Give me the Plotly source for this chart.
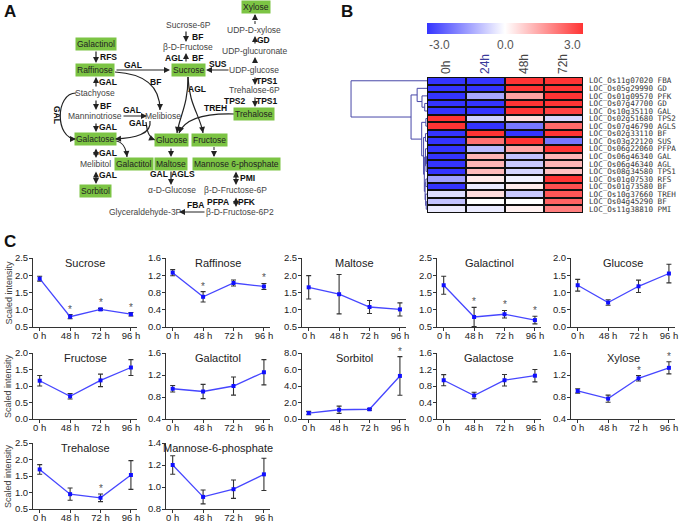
import plotly.graph_objects as go

W, H = 685, 523
FONT = "Arial, Liberation Sans, sans-serif"

# ---------------- Panel C data ----------------
time_labels = ["0 h", "48 h", "72 h", "96 h"]
metabolites = ["Sucrose", "Raffinose", "Maltose", "Galactinol", "Glucose",
               "Fructose", "Galactitol", "Sorbitol", "Galactose", "Xylose",
               "Trehalose", "Mannose-6-phosphate"]
means = {
    "Sucrose": [1.90, 0.80, 1.01, 0.87],
    "Raffinose": [1.26, 0.70, 1.02, 0.94],
    "Maltose": [1.65, 1.45, 1.08, 1.01],
    "Galactinol": [1.71, 0.79, 0.87, 0.70],
    "Glucose": [1.21, 0.71, 1.18, 1.55],
    "Fructose": [1.16, 0.69, 1.17, 1.56],
    "Galactitol": [0.95, 0.90, 1.00, 1.25],
    "Sorbitol": [0.72, 1.12, 1.18, 5.22],
    "Galactose": [0.94, 0.57, 0.94, 1.05],
    "Xylose": [0.91, 0.77, 1.14, 1.33],
    "Trehalose": [1.70, 0.95, 0.84, 1.53],
    "Mannose-6-phosphate": [1.20, 0.91, 0.98, 1.115],
}
errors = {
    "Sucrose": [0.07, 0.06, 0.03, 0.05],
    "Raffinose": [0.07, 0.12, 0.07, 0.07],
    "Maltose": [0.34, 0.57, 0.19, 0.19],
    "Galactinol": [0.26, 0.28, 0.11, 0.11],
    "Glucose": [0.17, 0.08, 0.18, 0.27],
    "Fructose": [0.16, 0.085, 0.19, 0.24],
    "Galactitol": [0.06, 0.13, 0.165, 0.23],
    "Sorbitol": [0.2, 0.44, 0.1, 2.34],
    "Galactose": [0.135, 0.08, 0.14, 0.15],
    "Xylose": [0.04, 0.065, 0.05, 0.11],
    "Trehalose": [0.145, 0.185, 0.115, 0.435],
    "Mannose-6-phosphate": [0.084, 0.063, 0.083, 0.147],
}
significant = {
    "Sucrose": [1, 2, 3], "Raffinose": [1, 3], "Galactinol": [1, 2, 3],
    "Sorbitol": [3], "Xylose": [2, 3], "Trehalose": [2],
}
y_ranges = {
    "Sucrose": (0.5, 2.5, 0.5), "Raffinose": (0.0, 1.6, 0.4), "Maltose": (0.5, 2.5, 0.5),
    "Galactinol": (0.5, 2.5, 0.5), "Glucose": (0.0, 2.0, 0.5), "Fructose": (0.0, 2.0, 0.5),
    "Galactitol": (0.4, 1.6, 0.4), "Sorbitol": (0.0, 8.0, 2.0), "Galactose": (0.0, 1.6, 0.4),
    "Xylose": (0.4, 1.6, 0.4), "Trehalose": (0.5, 2.5, 0.5), "Mannose-6-phosphate": (0.8, 1.4, 0.2),
}

# ---------------- Panel B data ----------------
hm_columns = ["0h", "24h", "48h", "72h"]
genes = ["LOC_Os11g07020", "LOC_Os05g29990", "LOC_Os01g09570", "LOC_Os07g47700",
         "LOC_Os10g35110", "LOC_Os02g51680", "LOC_Os07g46790", "LOC_Os02g33110",
         "LOC_Os03g22120", "LOC_Os06g22060", "LOC_Os06g46340", "LOC_Os06g46340",
         "LOC_Os08g34580", "LOC_Os01g07530", "LOC_Os01g73580", "LOC_Os10g37660",
         "LOC_Os04g45290", "LOC_Os11g38810"]
enzymes = ["FBA", "GD", "PFK", "GD", "GAL", "TPS2", "AGLS", "BF", "SUS", "PFPA",
           "GAL", "AGL", "TPS1", "RFS", "BF", "TREH", "BF", "PMI"]
expression = [
    [-3.0, -3.0, 3.0, 3.0],
    [-3.0, -3.0, 3.0, 3.0],
    [-3.0, -1.3, 1.4, 3.0],
    [-3.0, -3.0, 3.0, 3.0],
    [-3.0, -3.0, 3.0, 2.8],
    [3.0, -0.7, 0.5, -0.6],
    [3.0, -3.0, -2.0, 2.2],
    [-3.0, 3.0, -3.0, 3.0],
    [-3.0, 2.1, 3.0, -2.0],
    [-3.0, -1.0, 1.3, 3.0],
    [-3.0, 1.1, -0.9, 1.1],
    [-3.0, 1.1, -0.8, 1.1],
    [-3.0, 1.0, -0.6, 0.9],
    [-1.4, 0.3, -0.2, 3.0],
    [-3.0, -0.3, 0.3, 2.6],
    [-0.5, 0.5, -0.8, 2.5],
    [-0.9, 0.0, 0.0, 2.3],
    [-0.3, -0.3, 0.2, 1.9],
]
# dendrogram: [height, left, right]; leaves are row indices
dendro_tree = [1.0, 0,
               [0.21,
                [0.13, 1, [0.066, 2, [0.03, 3, 4]]],
                [0.07, [0.015, 5, 6],
                 [0.045, [0.02, 7, 8],
                  [0.035, [0.02, 9, [0.012, [0.005, 10, 11], 12]],
                   [0.025, [0.015, 13, 14], [0.018, 15, [0.01, 16, 17]]]]]]]]

# ---------------- Panel A (pathway) ----------------
green_nodes = [("Xylose", 256, 7), ("Galactinol", 96, 44), ("Raffinose", 95, 70),
               ("Sucrose", 188, 70), ("Trehalose", 254, 114), ("Galactose", 95, 139),
               ("Glucose", 171, 140), ("Fructose", 209, 140), ("Galactitol", 134, 164),
               ("Maltose", 171, 164), ("Mannose 6-phosphate", 236, 164), ("Sorbitol", 95, 191)]
plain_nodes = [("UDP-D-xylose", 254, 30), ("UDP-glucuronate", 254, 51), ("Sucrose-6P", 188, 25),
               ("β-D-Fructose", 188, 47), ("UDP-glucose", 254, 70), ("Trehalose-6P", 254, 90),
               ("Stachyose", 95, 93), ("Manninotriose", 95, 116), ("Melibiose", 163, 116),
               ("Melibitol", 95, 164), ("α-D-Glucose", 172, 190), ("β-D-Fructose-6P", 235, 190),
               ("β-D-Fructose-6P2", 240, 212), ("Glyceraldehyde-3P", 145, 212)]
enzyme_labels = [("GD", 263, 40), ("BF", 197, 37), ("AGL", 174, 58), ("BF", 197, 58),
                 ("SUS", 218, 64), ("TPS1", 267, 81), ("TPS2", 235, 101), ("TPS1", 267, 101),
                 ("TREH", 215, 108), ("RFS", 108, 57), ("GAL", 133, 65), ("BF", 155, 82),
                 ("AGL", 197, 89), ("GAL", 108, 82), ("BF", 105, 106), ("GAL", 132, 110),
                 ("GAL", 108, 127), ("GAL", 138, 123), ("GAL", 108, 153), ("GAL", 159, 174),
                 ("AGLS", 183, 174), ("GAL", 108, 175), ("PMI", 247, 178), ("PFPA", 218, 202),
                 ("PFK", 247, 202), ("FBA", 195, 205)]
straight_arrows = [  # (x1, y1, x2, y2, style)  style: 'one', 'both', 'dash'
    (255, 45, 255, 36, "one"), (255, 24, 255, 14, "dash"), (186, 30, 186, 42, "one"),
    (186, 63, 186, 53, "one"), (230, 70, 206, 70, "one"), (255, 64, 255, 57, "one"),
    (255, 76, 255, 85, "one"), (255, 96, 255, 107, "one"), (96, 50, 96, 63, "one"),
    (115, 70, 170, 70, "one"), (96, 88, 96, 77, "one"), (96, 99, 96, 110, "one"),
    (122, 116, 147, 116, "one"), (96, 122, 96, 132, "one"), (96, 147, 96, 158, "both"),
    (96, 170, 96, 184, "both"), (171, 147, 171, 157, "one"), (214, 147, 214, 157, "dash"),
    (171, 170, 171, 185, "one"), (236, 170, 236, 185, "both"), (236, 196, 236, 207, "both"),
    (206, 212, 179, 212, "one"),
]
curved_arrows = [  # start, control1, control2, end
    ((115, 72), (150, 74), (160, 90), (160, 110)),
    ((188, 77), (188, 105), (180, 115), (177, 133)),
    ((188, 77), (189, 105), (200, 115), (203, 133)),
    ((235, 114), (205, 113), (185, 118), (179, 133)),
    ((76, 93), (55, 93), (55, 139), (76, 139)),
    ((150, 121), (152, 134), (135, 138), (115, 139)),
    ((146, 122), (147, 130), (148, 137), (155, 140)),
    ((115, 141), (122, 141), (126, 148), (127, 157)),
]

fig = go.Figure()
annotations = []
shapes = []

# ---------- Panel C subplots ----------
col_px = [(33, 137), (166, 270), (302, 406), (437, 541), (571, 675)]
row_px = [(258, 327), (353, 419), (443, 509)]
layout_axes = {}
for i, name in enumerate(metabolites):
    n = i + 1
    r, c = divmod(i, 5)
    x0, x1 = col_px[c]
    y0, y1 = row_px[r]
    xa = "x" if n == 1 else f"x{n}"
    ya = "y" if n == 1 else f"y{n}"
    fig.add_trace(go.Scatter(
        x=[0, 1, 2, 3], y=means[name], xaxis=xa, yaxis=ya, mode="lines+markers",
        line=dict(color="#4646ff", width=1.3),
        marker=dict(symbol="square", size=4, color="#1010ff"),
        error_y=dict(type="data", array=errors[name], color="#333333", thickness=1.1, width=2.5),
        showlegend=False, hoverinfo="skip"))
    lo, hi, dt = y_ranges[name]
    xkey = "xaxis" if n == 1 else f"xaxis{n}"
    ykey = "yaxis" if n == 1 else f"yaxis{n}"
    layout_axes[xkey] = dict(domain=[x0 / W, x1 / W], anchor=ya, range=[-0.22, 3.2],
                             tickvals=[0, 1, 2, 3], ticktext=time_labels, showline=True,
                             linecolor="#333", linewidth=1, ticks="outside", ticklen=3,
                             tickcolor="#333", showgrid=False, zeroline=False,
                             automargin=False, ticklabelstandoff=-3,
                             tickfont=dict(family=FONT, size=9.5, color="#222"))
    layout_axes[ykey] = dict(domain=[1 - y1 / H, 1 - y0 / H], anchor=xa, range=[lo, hi],
                             dtick=dt, tick0=lo, tickformat=".1f", showline=True,
                             linecolor="#333", linewidth=1, ticks="outside", ticklen=3,
                             tickcolor="#333", showgrid=False, zeroline=False,
                             automargin=False, ticklabelstandoff=-1,
                             tickfont=dict(family=FONT, size=9.5, color="#222"))
    annotations.append(dict(text=name, xref=f"{xa} domain", yref=f"{ya} domain", x=0.5,
                            y=0.93, showarrow=False,
                            font=dict(family=FONT, size=11, color="#222")))
    for k in significant.get(name, []):
        annotations.append(dict(text="*", xref=xa, yref=ya, x=k,
                                y=means[name][k] + errors[name][k], yanchor="bottom",
                                yshift=-2, showarrow=False,
                                font=dict(family=FONT, size=10, color="#555")))
    if c == 0:
        annotations.append(dict(text="Scaled intensity", xref="paper", yref="paper",
                                x=8 / W, y=1 - (y0 + y1) / 2 / H, textangle=-90,
                                showarrow=False,
                                font=dict(family=FONT, size=9, color="#444")))

# ---------- Panel B heatmap ----------
hx0, hx1, hy0, hy1 = 427, 583, 77, 213
fig.add_trace(go.Heatmap(
    z=expression, x=[0, 1, 2, 3], y=list(range(len(genes))), xaxis="x13", yaxis="y13",
    zmin=-3, zmax=3, xgap=2, ygap=2,
    colorscale=[[0, "#3434ff"], [0.5, "#ffffff"], [1, "#ff3434"]],
    colorbar=dict(orientation="h", thickness=11, len=(hx1 - hx0) / W, lenmode="fraction",
                  x=hx0 / W, xanchor="left", y=1 - 23 / H, yanchor="top",
                  showticklabels=False, ticks="", outlinewidth=0, xpad=0, ypad=0),
    hoverinfo="skip"))
row_labels = [f"{g} {e}" for g, e in zip(genes, enzymes)]
col_ticktext = [c if c != "24h" else '<span style="color:#3a3a9a">24h</span>' for c in hm_columns]
layout_axes["xaxis13"] = dict(domain=[hx0 / W, hx1 / W], anchor="y13", range=[-0.5, 3.5],
                              side="top", tickvals=[0, 1, 2, 3], ticktext=col_ticktext,
                              tickangle=-90, ticks="", showgrid=False, zeroline=False,
                              showline=False, ticklabelstandoff=2, automargin=False,
                              tickfont=dict(family=FONT, size=12, color="#444"))
layout_axes["yaxis13"] = dict(domain=[1 - hy1 / H, 1 - hy0 / H], anchor="x13",
                              range=[len(genes) - 0.5, -0.5], side="right",
                              tickvals=list(range(len(genes))), ticktext=row_labels,
                              ticks="", showgrid=False, zeroline=False, showline=False,
                              ticklabelstandoff=5, automargin=False,
                              tickfont=dict(family="DejaVu Sans Mono, monospace", size=7.6,
                                            color="#333"))
shapes.append(dict(type="rect", xref="x13", yref="y13", x0=-0.52, x1=3.52,
                   y0=-0.53, y1=len(genes) - 0.47, fillcolor="#111", line=dict(width=0),
                   layer="below"))

# dendrogram
dx, dy = [], []


def walk(node):
    if isinstance(node, int):
        return 0.0, float(node)
    h, left, right = node
    lh, ly = walk(left)
    rh, ry = walk(right)
    dx.extend([lh, h, h, rh, None])
    dy.extend([ly, ly, ry, ry, None])
    return h, (ly + ry) / 2


walk(dendro_tree)
fig.add_trace(go.Scatter(x=dx, y=dy, xaxis="x14", yaxis="y14", mode="lines",
                         line=dict(color="#4848a8", width=1), showlegend=False,
                         hoverinfo="skip"))
layout_axes["xaxis14"] = dict(domain=[348 / W, hx0 / W], anchor="y14", range=[1.04, 0],
                              visible=False, automargin=False)
layout_axes["yaxis14"] = dict(domain=[1 - hy1 / H, 1 - hy0 / H], anchor="x14",
                              range=[len(genes) - 0.5, -0.5], visible=False,
                              automargin=False)

# colorbar labels
for txt, px_, anc in [("-3.0", hx0, "left"), ("0.0", 505, "center"), ("3.0", hx1, "right")]:
    annotations.append(dict(text=txt, xref="paper", yref="paper", x=px_ / W, y=1 - 45 / H,
                            xanchor=anc, yanchor="middle", showarrow=False,
                            font=dict(family=FONT, size=12, color="#555")))


# ---------- Panel A ----------
def px(x, y):
    return x / W, 1 - y / H


for name, x, y in green_nodes:
    X, Y = px(x, y)
    annotations.append(dict(text=name, xref="paper", yref="paper", x=X, y=Y,
                            showarrow=False, bgcolor="#7cc444", borderpad=1,
                            font=dict(family=FONT, size=8.5, color="#222")))
for name, x, y in plain_nodes:
    X, Y = px(x, y)
    annotations.append(dict(text=name, xref="paper", yref="paper", x=X, y=Y,
                            showarrow=False, font=dict(family=FONT, size=8.5, color="#444")))
for name, x, y in enzyme_labels:
    X, Y = px(x, y)
    annotations.append(dict(text=f"<b>{name}</b>", xref="paper", yref="paper", x=X, y=Y,
                            showarrow=False, font=dict(family=FONT, size=8.5, color="#111")))
X, Y = px(57, 115)
annotations.append(dict(text="<b>GAL</b>", xref="paper", yref="paper", x=X, y=Y,
                        textangle=90, showarrow=False,
                        font=dict(family=FONT, size=8.5, color="#111")))


def head(x2, y2, ax, ay, side="end"):
    X, Y = px(x2, y2)
    annotations.append(dict(text="", xref="paper", yref="paper", x=X, y=Y,
                            ax=ax, ay=ay, axref="pixel", ayref="pixel", showarrow=True,
                            arrowhead=2, arrowsize=1, arrowwidth=1.2, arrowcolor="#222",
                            standoff=0, startstandoff=0, arrowside=side))


for x1, y1, x2, y2, style in straight_arrows:
    if style == "dash":
        X1, Y1 = px(x1, y1)
        X2, Y2 = px(x2, y2)
        shapes.append(dict(type="line", xref="paper", yref="paper", x0=X1, y0=Y1, x1=X2,
                           y1=Y2, line=dict(color="#444", width=1.2, dash="dot")))
        L = ((x2 - x1) ** 2 + (y2 - y1) ** 2) ** 0.5
        head(x2, y2, (x1 - x2) / L * 4, (y1 - y2) / L * 4)
    else:
        head(x2, y2, x1 - x2, y1 - y2, "end+start" if style == "both" else "end")

for (s, c1, c2, e) in curved_arrows:
    pts = [px(*p) for p in (s, c1, c2, e)]
    path = "M {},{} C {},{} {},{} {},{}".format(*[v for p in pts for v in p])
    shapes.append(dict(type="path", xref="paper", yref="paper", path=path,
                       line=dict(color="#222", width=1.2)))
    vx, vy = e[0] - c2[0], e[1] - c2[1]
    L = (vx ** 2 + vy ** 2) ** 0.5
    head(e[0], e[1], -vx / L * 4, -vy / L * 4)

# panel letters
for letter, x, y in [("A", 10, 11), ("B", 347, 11), ("C", 10, 241)]:
    X, Y = px(x, y)
    annotations.append(dict(text=f"<b>{letter}</b>", xref="paper", yref="paper", x=X, y=Y,
                            showarrow=False, font=dict(family=FONT, size=17, color="#111")))

for a in annotations:
    a.setdefault("xanchor", "center")
    a.setdefault("yanchor", "middle")

fig.update_layout(width=W, height=H, margin=dict(l=0, r=0, t=0, b=0, autoexpand=False),
                  paper_bgcolor="white", plot_bgcolor="white", showlegend=False,
                  hovermode=False,
                  annotations=annotations, shapes=shapes, **layout_axes)
fig.write_html("out.html", config={"displayModeBar": False, "staticPlot": True},
               post_script="document.body.style.margin='0px';")
